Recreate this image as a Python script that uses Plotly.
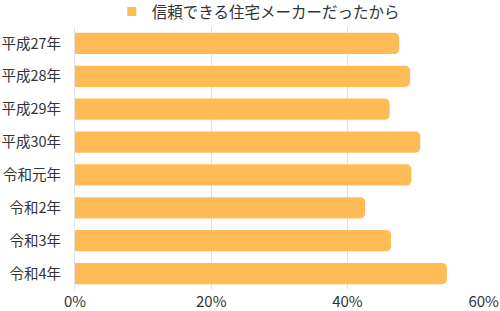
import plotly.graph_objects as go

categories = ["平成27年", "平成28年", "平成29年", "平成30年", "令和元年", "令和2年", "令和3年", "令和4年"]
values = [47.6, 49.2, 46.2, 50.7, 49.4, 42.6, 46.4, 54.6]
series_name = "信頼できる住宅メーカーだったから"
x_ticks = [0, 20, 40, 60]
x_tick_labels = ["0%", "20%", "40%", "60%"]

FONT = "Noto Sans CJK JP"
COLOR = "#FFBB55"

fig = go.Figure()
fig.add_trace(go.Bar(
    x=values, y=categories, orientation="h", name=series_name,
    marker=dict(color=COLOR, cornerradius=5, line=dict(width=0)),
    showlegend=False,
))
# legend entry with small square symbol
fig.add_trace(go.Scatter(
    x=[None], y=[None], mode="markers", name=series_name,
    marker=dict(symbol="square", size=9, color=COLOR),
    showlegend=True,
))

fig.update_layout(
    width=500, height=311,
    margin=dict(l=75, r=16, t=27, b=21, autoexpand=False),
    paper_bgcolor="white", plot_bgcolor="white",
    font=dict(family=FONT, size=15, color="#333333"),
    bargap=0.35,
    legend=dict(orientation="h", x=0.09, xanchor="left", y=1.057, yanchor="middle",
                font=dict(size=15.5, color="#333333"), itemwidth=30,
                bgcolor="rgba(0,0,0,0)"),
    xaxis=dict(range=[0, 60.05], tickvals=x_ticks, ticktext=x_tick_labels,
               showgrid=True, gridcolor="#e0e0e0", gridwidth=1,
               zeroline=False, showline=False, ticks="", automargin=False,
               ticklabelstandoff=1,
               tickfont=dict(size=15, color="#333333"), fixedrange=True),
    yaxis=dict(autorange="reversed", showgrid=False, zeroline=False,
               showline=True, linecolor="#e3e3e3", ticks="", automargin=False,
               ticklabelstandoff=10,
               tickfont=dict(size=14.5, color="#333333")),
)

fig.write_html("out.html")
